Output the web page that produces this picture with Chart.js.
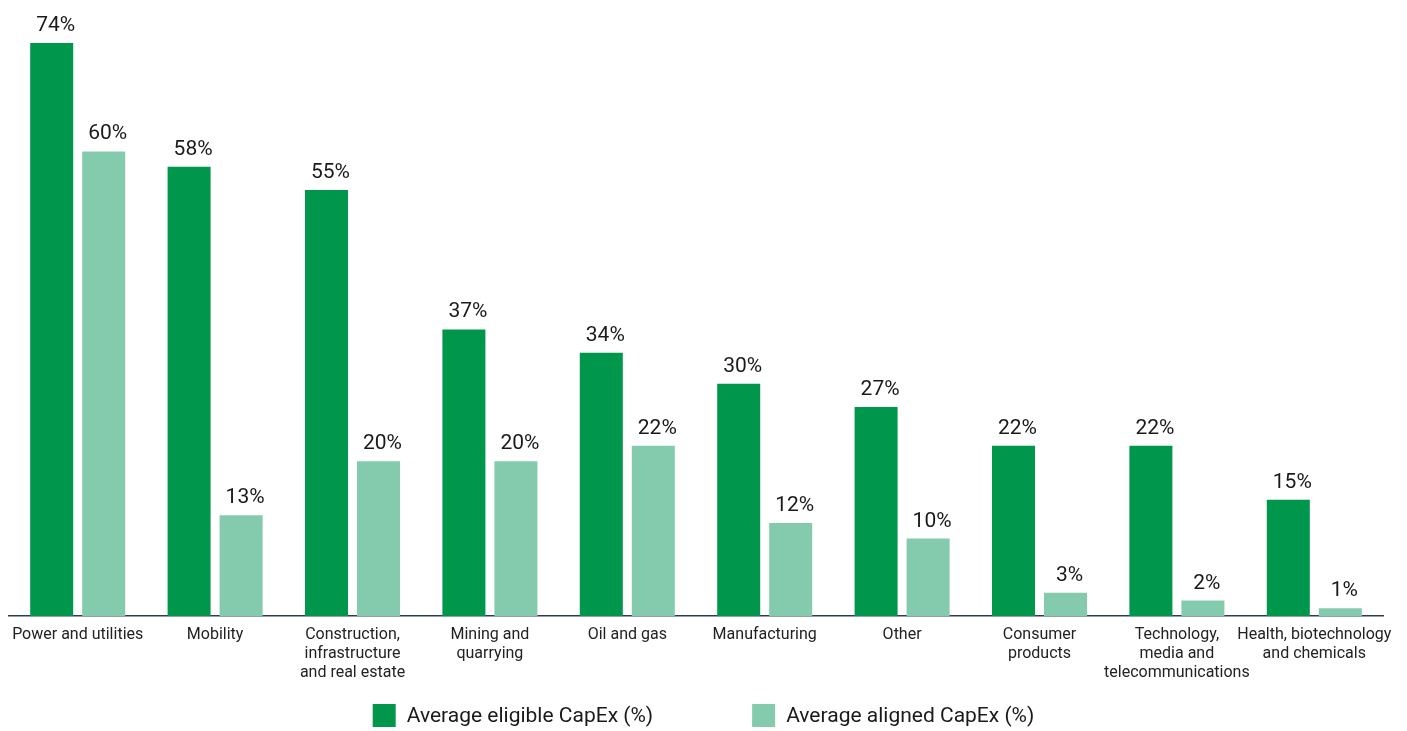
<!DOCTYPE html>
<html>
<head>
<meta charset="utf-8">
<script src="https://cdn.jsdelivr.net/npm/chart.js@4.4.1/dist/chart.umd.min.js"></script>
<style>
  html, body { margin: 0; padding: 0; background: #fff; }
</style>
</head>
<body>
<canvas id="chart" width="1407" height="731"></canvas>
<script>
// Secteurs (axe des x), une entree par groupe de barres
var secteurs = [
  'Power and utilities',
  'Mobility',
  ['Construction,', 'infrastructure', 'and real estate'],
  ['Mining and', 'quarrying'],
  'Oil and gas',
  'Manufacturing',
  'Other',
  ['Consumer', 'products'],
  ['Technology,', 'media and', 'telecommunications'],
  ['Health, biotechnology', 'and chemicals']
];
// CapEx moyen eligible et aligne, en %
var eligible = [74, 58, 55, 37, 34, 30, 27, 22, 22, 15];
var aligned  = [60, 13, 20, 20, 22, 12, 10, 3, 2, 1];
var series   = ['Average eligible CapEx (%)', 'Average aligned CapEx (%)'];
var couleurs = ['#00974d', '#84cbad'];

var police = 'Roboto, "Noto Sans", sans-serif';

// valeur au-dessus de chaque barre
var etiquettes = {
  id: 'etiquettes',
  afterDatasetsDraw: function(chart) {
    var ctx = chart.ctx;
    ctx.save();
    ctx.font = '21px ' + police;
    ctx.fillStyle = '#1a1a1a';
    ctx.textAlign = 'center';
    ctx.textBaseline = 'alphabetic';
    chart.data.datasets.forEach(function(ds, i) {
      chart.getDatasetMeta(i).data.forEach(function(bar, j) {
        ctx.fillText(ds.data[j] + '%', bar.x + 4, bar.y - 12);
      });
    });
    ctx.restore();
  }
};

// legende en bas, deux carres bien espaces
var legende = {
  id: 'legende',
  afterDraw: function(chart) {
    var ctx = chart.ctx;
    var carre = 23, ecart = 11, entre = 99;
    ctx.save();
    ctx.font = '21px ' + police;
    var largeurs = chart.data.datasets.map(function(ds) {
      return carre + ecart + ctx.measureText(ds.label).width;
    });
    var total = largeurs[0] + largeurs[1] + entre;
    var x = (chart.width - total) / 2;
    var y = 704;
    ctx.textBaseline = 'middle';
    ctx.textAlign = 'left';
    chart.data.datasets.forEach(function(ds, i) {
      ctx.fillStyle = ds.backgroundColor;
      ctx.fillRect(x, y, carre, carre);
      ctx.fillStyle = '#1a1a1a';
      ctx.fillText(ds.label, x + carre + ecart, y + carre / 2 + 1);
      x += largeurs[i] + entre;
    });
    ctx.restore();
  }
};

new Chart(document.getElementById('chart'), {
  type: 'bar',
  data: {
    labels: secteurs,
    datasets: [
      { label: series[0], data: eligible, backgroundColor: couleurs[0] },
      { label: series[1], data: aligned,  backgroundColor: couleurs[1] }
    ]
  },
  options: {
    responsive: false,
    animation: false,
    layout: { padding: { left: 9, right: 24, top: 12, bottom: 40 } },
    datasets: { bar: { categoryPercentage: 0.757, barPercentage: 0.827 } },
    plugins: {
      legend: { display: false },
      tooltip: { enabled: false }
    },
    scales: {
      x: {
        grid: { display: false, drawTicks: false },
        border: { display: true, color: '#2e3d4d', width: 1.5 },
        ticks: {
          autoSkip: false, maxRotation: 0, minRotation: 0,
          padding: 9, color: '#222',
          font: { family: police, size: 16, lineHeight: 1.2 }
        },
        afterFit: function(axis) { axis.height = 75; }
      },
      y: {
        display: false,
        min: 0, max: 78
      }
    }
  },
  plugins: [etiquettes, legende]
});
</script>
</body>
</html>
